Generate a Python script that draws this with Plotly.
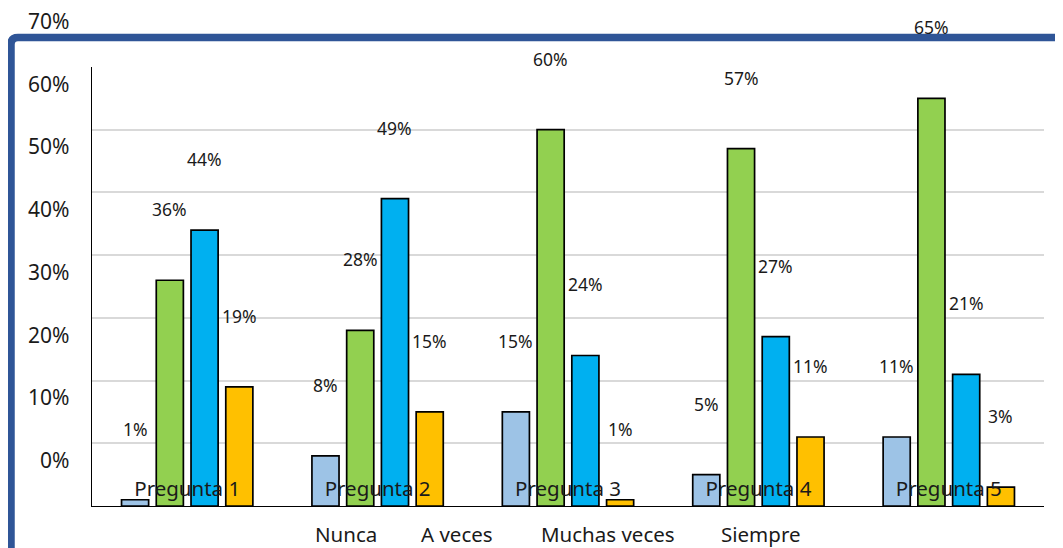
import plotly.graph_objects as go

categories = ["Pregunta 1", "Pregunta 2", "Pregunta 3", "Pregunta 4", "Pregunta 5"]
series_names = ["Nunca", "A veces", "Muchas veces", "Siempre"]
nunca = [1, 8, 15, 5, 11]
a_veces = [36, 28, 60, 57, 65]
muchas_veces = [44, 49, 24, 27, 21]
siempre = [19, 15, 1, 11, 3]
series_values = [nunca, a_veces, muchas_veces, siempre]
colors = ["#9DC3E6", "#92D050", "#00B0F0", "#FFC000"]
y_tick_values = [0, 10, 20, 30, 40, 50, 60, 70]
y_tick_labels = ["0%", "10%", "20%", "30%", "40%", "50%", "60%", "70%"]

OFF = 8  # page body margin
W, H = 1063 - OFF, 548 - OFF
ML, MR, MT, MB = 92 - OFF, 19, 66.5 - OFF, 42
PW = W - ML - MR
PH = H - MT - MB
FONT = "Noto Sans"

def px2x(px):
    return (px - OFF - ML) / PW

def px2y(py):
    return (H - MB - (py - OFF)) / PH

fig = go.Figure()
for name, vals, col in zip(series_names, series_values, colors):
    fig.add_trace(go.Bar(
        x=categories, y=[v / 100 for v in vals], name=name,
        marker=dict(color=col, line=dict(color="#000000", width=1.7)),
        showlegend=False,
    ))

bargap, groupgap = 0.27, 0.22
cat_w = PW / len(categories)
slot = cat_w * (1 - bargap) / len(series_names)
annotations = []
for i, vals in enumerate(series_values):
    xs = (i - (len(series_names) - 1) / 2) * slot
    for c, v in zip(categories, vals):
        annotations.append(dict(
            x=c, y=v / 100, xref="x", yref="y", text=f"{v}%", showarrow=False,
            xshift=xs, yshift=71, yanchor="middle", xanchor="center",
            font=dict(family=FONT, size=17.5, color="#1a1a1a"),
        ))

# y-axis tick labels (drawn displaced upward as in the original)
for tv, tl in zip(y_tick_values, y_tick_labels):
    annotations.append(dict(
        x=px2x(71), y=tv / 100, xref="paper", yref="y", text=tl,
        showarrow=False, xanchor="right", yanchor="middle", yshift=46,
        font=dict(family=FONT, size=21, color="#1a1a1a"),
    ))

legend_left_px = [313, 419, 539, 719]
for name, lx in zip(series_names, legend_left_px):
    annotations.append(dict(
        x=px2x(lx), y=px2y(534), xref="paper", yref="paper", text=name,
        showarrow=False, xanchor="left", yanchor="middle",
        font=dict(family=FONT, size=20.5, color="#1a1a1a"),
    ))

frame_path = (f"M {px2x(11)},{px2y(580)} L {px2x(11)},{px2y(44)} "
              f"Q {px2x(11)},{px2y(37)} {px2x(18)},{px2y(37)} L {px2x(1080)},{px2y(37)}")

fig.update_layout(
    width=W, height=H,
    margin=dict(l=ML, r=MR, t=MT, b=MB, pad=0),
    paper_bgcolor="white", plot_bgcolor="white",
    barmode="group", bargap=bargap, bargroupgap=groupgap,
    font=dict(family=FONT, color="#1a1a1a"),
    annotations=annotations,
    shapes=[dict(type="path", path=frame_path, xref="paper", yref="paper",
                 line=dict(color="#2F5597", width=7.5), layer="above")],
)
fig.update_yaxes(
    range=[0, 0.7], dtick=0.1, showticklabels=False,
    showgrid=True, gridcolor="#D9D9D9", gridwidth=1.5,
    showline=True, linecolor="#000000", linewidth=1,
    zeroline=False, ticks="",
)
fig.update_xaxes(
    showline=True, linecolor="#000000", linewidth=1.2,
    ticks="", ticklabelposition="inside", ticklabelstandoff=7,
    tickfont=dict(family=FONT, size=20.5, color="#1a1a1a"),
)

fig.write_html("out.html")
